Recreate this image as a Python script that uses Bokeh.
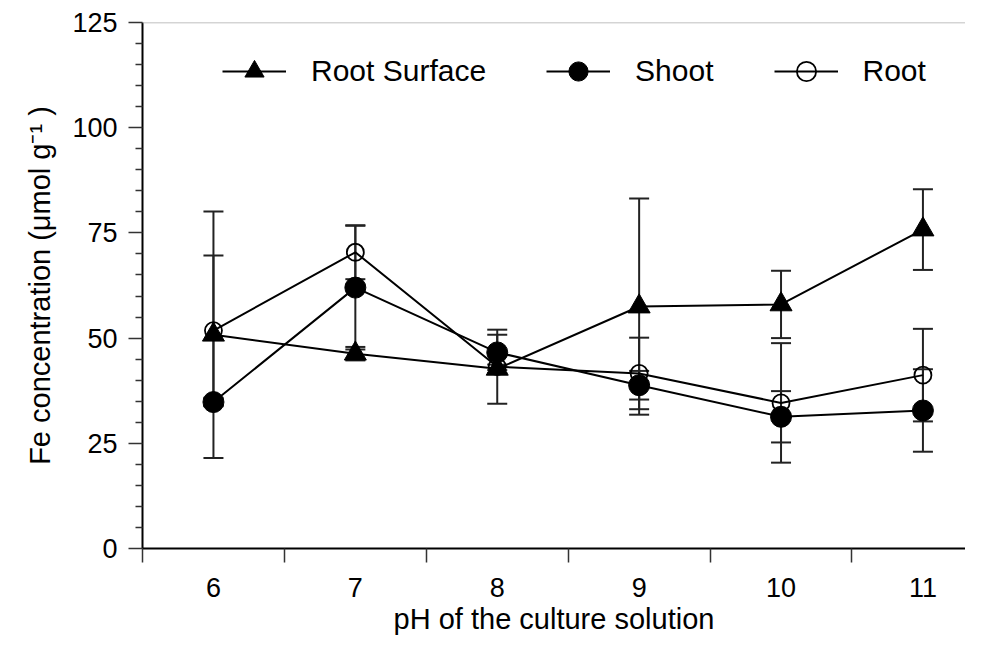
from bokeh.plotting import figure
from bokeh.models import (ColumnDataSource, Whisker, TeeHead, FixedTicker, Legend,
                          LegendItem, Span, Range1d)
from bokeh.embed import file_html
from bokeh.resources import INLINE

# ---- data ----
ph = [6, 7, 8, 9, 10, 11]
root_surface = [50.8, 46.3, 42.7, 57.5, 58.0, 75.8]
root_surface_err = [29.3, 1.6, 1.0, 25.7, 8.0, 9.6]
shoot = [34.8, 62.0, 46.6, 38.8, 31.3, 32.8]
shoot_err = [1.0, 14.7, 4.2, 3.4, 6.1, 9.8]
root = [51.8, 70.4, 43.2, 41.6, 34.6, 41.2]
root_err = [17.8, 6.4, 8.8, 8.5, 14.2, 11.0]

y_ticks = [0, 25, 50, 75, 100, 125]
y_minor = [5, 10, 15, 20, 30, 35, 40, 45, 55, 60, 65, 70, 80, 85, 90, 95, 105, 110, 115, 120]
x_boundaries = [5.5, 6.5, 7.5, 8.5, 9.5, 10.5]

series_labels = ["Root Surface", "Shoot", "Root"]
x_title = "pH of the culture solution"
y_title = "Fe concentration (μmol g⁻¹ )"

FONT = "Liberation Sans"
INK = "black"
ERR = "#222222"

p = figure(width=965, height=637,
           x_range=Range1d(5.5, 11.30), y_range=Range1d(0, 125),
           output_backend="svg", toolbar_location=None,
           min_border_left=142, min_border_top=22, min_border_right=0,
           min_border_bottom=88)

p.grid.visible = False
p.outline_line_color = None
p.background_fill_color = "white"
p.border_fill_color = "white"

# top border line
p.add_layout(Span(location=125, dimension="width", line_color="#aaaaaa", line_width=1.5))

# axes
xa = p.xaxis[0]
xa.ticker = FixedTicker(ticks=ph, minor_ticks=x_boundaries)
xa.major_tick_out = 0
xa.major_tick_in = 0
xa.minor_tick_out = 14
xa.minor_tick_in = 0
xa.minor_tick_line_color = "#333333"
xa.minor_tick_line_width = 1.5
xa.axis_line_color = INK
xa.axis_line_width = 2
xa.major_label_text_font = FONT
xa.major_label_text_font_size = "27px"
xa.major_label_text_color = INK
xa.major_label_standoff = 15
xa.axis_label = x_title
xa.axis_label_text_font = FONT
xa.axis_label_text_font_size = "29px"
xa.axis_label_text_font_style = "normal"
xa.axis_label_text_color = INK
xa.axis_label_standoff = 3

ya = p.yaxis[0]
ya.ticker = FixedTicker(ticks=y_ticks, minor_ticks=y_minor)
ya.major_tick_out = 14
ya.major_tick_in = 0
ya.minor_tick_out = 7
ya.minor_tick_in = 0
ya.major_tick_line_color = "#333333"
ya.minor_tick_line_color = "#333333"
ya.major_tick_line_width = 1.5
ya.minor_tick_line_width = 1.5
ya.axis_line_color = INK
ya.axis_line_width = 2
ya.major_label_text_font = FONT
ya.major_label_text_font_size = "27px"
ya.major_label_text_color = INK
ya.major_label_standoff = 11
ya.axis_label = y_title
ya.axis_label_text_font = FONT
ya.axis_label_text_font_size = "29px"
ya.axis_label_text_font_style = "normal"
ya.axis_label_text_color = INK
ya.axis_label_standoff = 13

# error bars
def add_err(vals, errs):
    src = ColumnDataSource(dict(x=ph,
                                upper=[v + e for v, e in zip(vals, errs)],
                                lower=[v - e for v, e in zip(vals, errs)]))
    w = Whisker(source=src, base="x", upper="upper", lower="lower", dimension="height",
                line_color=ERR, line_width=2,
                upper_head=TeeHead(size=20, line_color=ERR, line_width=2),
                lower_head=TeeHead(size=20, line_color=ERR, line_width=2))
    p.add_layout(w)

add_err(root_surface, root_surface_err)
add_err(shoot, shoot_err)
add_err(root, root_err)

# lines + markers
l_root = p.line(ph, root, line_color=INK, line_width=2)
l_shoot = p.line(ph, shoot, line_color=INK, line_width=2)
l_rs = p.line(ph, root_surface, line_color=INK, line_width=2)
s_root = p.scatter(ph, root, marker="circle", size=17, fill_color=None,
                   line_color=INK, line_width=1.8)
s_shoot = p.scatter(ph, shoot, marker="circle", size=21, fill_color=INK, line_color=INK)
s_rs = p.scatter(ph, root_surface, marker="triangle", size=22, fill_color=INK, line_color=INK)

legend = Legend(items=[LegendItem(label=series_labels[0], renderers=[l_rs, s_rs]),
                       LegendItem(label=series_labels[1], renderers=[l_shoot, s_shoot]),
                       LegendItem(label=series_labels[2], renderers=[l_root, s_root])],
                orientation="horizontal", location=(80, 453),
                glyph_width=64, glyph_height=48, label_height=48,
                label_standoff=25, spacing=60, padding=0, margin=0,
                border_line_alpha=0, background_fill_alpha=0,
                label_text_font=FONT, label_text_font_size="30px",
                label_text_color=INK)
p.add_layout(legend)

open("out.html", "w").write(file_html(p, INLINE))
